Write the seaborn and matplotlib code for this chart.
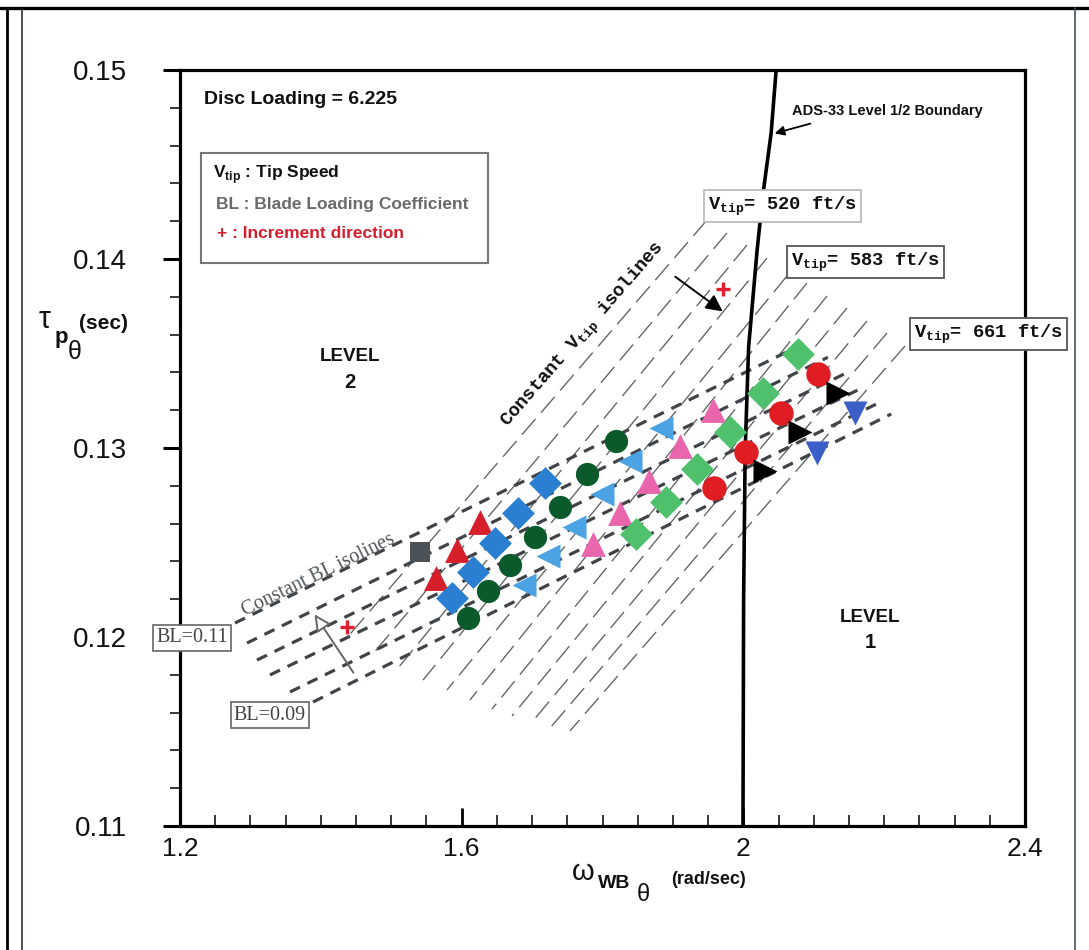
import matplotlib
matplotlib.use("Agg")
import matplotlib.pyplot as plt
import seaborn as sns
import pandas as pd
from matplotlib.lines import Line2D
from matplotlib.patches import Rectangle
from matplotlib.ticker import MultipleLocator

W, H = 1089, 950

sns.set_theme(style="white")
plt.rcParams['font.family'] = ['Liberation Sans', 'DejaVu Sans']
plt.rcParams['mathtext.fontset'] = 'custom'
plt.rcParams['mathtext.tt'] = 'Liberation Mono:bold'
plt.rcParams['mathtext.bf'] = 'Liberation Sans:bold'
plt.rcParams['mathtext.rm'] = 'Liberation Sans'
plt.rcParams['lines.scale_dashes'] = False

MONO = ['Liberation Mono', 'DejaVu Sans Mono']
SERIF = ['Liberation Serif', 'DejaVu Serif']

# ---- configurations (omega_WB, tau_p) grouped by marker family ----
square_x = [1.541]
square_y = [0.12450]
red_tri_x = [1.5635, 1.5934, 1.6260]
red_tri_y = [0.12312, 0.12460, 0.12608]
blue_dia_x = [1.5863, 1.6161, 1.6473, 1.6800, 1.7183]
blue_dia_y = [0.12206, 0.12344, 0.12497, 0.12656, 0.12815]
dkgreen_x = [1.6090, 1.6374, 1.6686, 1.7041, 1.7396, 1.7780, 1.8191]
dkgreen_y = [0.12101, 0.12243, 0.12381, 0.12529, 0.12688, 0.12862, 0.13037]
ltblue_x = [1.6885, 1.7226, 1.7595, 1.7993, 1.8390, 1.8830]
ltblue_y = [0.12275, 0.12429, 0.12582, 0.12757, 0.12931, 0.13106]
pink_x = [1.7865, 1.8248, 1.8660, 1.9100, 1.9569]
pink_y = [0.12492, 0.12656, 0.12825, 0.13011, 0.13201]
green_dia_x = [1.8475, 1.8901, 1.9342, 1.9810, 2.0279, 2.0776]
green_dia_y = [0.12545, 0.12714, 0.12889, 0.13085, 0.13291, 0.13497]
red_circ_x = [1.9583, 2.0038, 2.0535, 2.1060]
red_circ_y = [0.12788, 0.12979, 0.13185, 0.13392]
black_tri_x = [2.0307, 2.0804, 2.1344]
black_tri_y = [0.12878, 0.13085, 0.13291]
blue_down_x = [2.1046, 2.1585]
blue_down_y = [0.12974, 0.13185]

# ---- constant blade-loading isolines (start / end) ----
bl_x0 = [1.2781, 1.2951, 1.3093, 1.3278, 1.3562, 1.3889]
bl_y0 = [0.12074, 0.11968, 0.11878, 0.11799, 0.11709, 0.11656]
bl_x1 = [2.0900, 2.1200, 2.1480, 2.1700, 2.1930, 2.2100]
bl_y1 = [0.13560, 0.13480, 0.13400, 0.13320, 0.13240, 0.13180]

# ---- constant tip-speed isolines (upper / lower end) ----
vt_x0 = [1.9484, 1.9768, 2.0052, 2.0336, 2.0620, 2.0904, 2.1188, 2.1472, 2.1756, 2.2040, 2.2296]
vt_y0 = [0.14206, 0.14138, 0.14074, 0.14005, 0.13910, 0.13873, 0.13804, 0.13741, 0.13672, 0.13608, 0.13540]
vt_x1 = [1.4343, 1.4727, 1.5096, 1.5451, 1.5792, 1.6118, 1.6431, 1.6715, 1.6999, 1.7268, 1.7538]
vt_y1 = [0.11984, 0.11905, 0.11836, 0.11772, 0.11720, 0.11667, 0.11619, 0.11582, 0.11550, 0.11524, 0.11503]

# ---- ADS-33 level 1/2 boundary ----
ads_x = [2.0466, 2.0395, 2.0281, 2.0196, 2.0075, 2.0026, 2.0004, 1.9995]
ads_y = [0.15000, 0.14667, 0.14349, 0.14048, 0.13534, 0.12989, 0.12196, 0.11000]

groups = [
    ("square", square_x, square_y, "s", "#4b5257", 200),
    ("red_tri", red_tri_x, red_tri_y, "^", "#d71f2b", 320),
    ("blue_dia", blue_dia_x, blue_dia_y, "D", "#2b7fd3", 280),
    ("dkgreen", dkgreen_x, dkgreen_y, "o", "#0b5a2c", 280),
    ("ltblue", ltblue_x, ltblue_y, "<", "#4ba3e3", 300),
    ("pink", pink_x, pink_y, "^", "#e966ad", 320),
    ("green_dia", green_dia_x, green_dia_y, "D", "#4fc06c", 280),
    ("red_circ", red_circ_x, red_circ_y, "o", "#e11d24", 310),
    ("black_tri", black_tri_x, black_tri_y, ">", "#000000", 300),
    ("blue_down", blue_down_x, blue_down_y, "v", "#3c5ec8", 300),
]

fig = plt.figure(figsize=(W / 100, H / 100), dpi=100)
fig.patch.set_facecolor("white")
ax = fig.add_axes([180 / W, 1 - 826 / H, 845 / W, 756 / H])
ax.set_facecolor("white")

# isolines
for x0, y0, x1, y1 in zip(vt_x0, vt_y0, vt_x1, vt_y1):
    ax.plot([x0, x1], [y0, y1], color="#606060", lw=0.95, dashes=(15, 6), zorder=1)
for x0, y0, x1, y1 in zip(bl_x0, bl_y0, bl_x1, bl_y1):
    ax.plot([x0, x1], [y0, y1], color="#404448", lw=2.3, dashes=(8, 6), zorder=2)

# boundary
ax.plot(ads_x, ads_y, color="black", lw=2.6, zorder=4)

# markers
for name, xs, ys, mk, col, size in groups:
    df = pd.DataFrame({"omega": xs, "tau": ys})
    sns.scatterplot(data=df, x="omega", y="tau", marker=mk, color=col, s=size,
                    linewidth=0, ax=ax, zorder=5)

# increment markers
ax.scatter([1.9711, 1.4371], [0.13841, 0.12053], marker="+", s=110,
           color="#e0202e", linewidths=2.4, zorder=6)

ax.set_xlim(1.2, 2.4)
ax.set_ylim(0.11, 0.15)
ax.set_xlabel("")
ax.set_ylabel("")
ax.set_xticks([1.2, 1.6, 2.0, 2.4])
ax.set_xticklabels(["1.2", "1.6", "2", "2.4"])
ax.set_yticks([0.11, 0.12, 0.13, 0.14, 0.15])
ax.set_yticklabels(["0.11", "0.12", "0.13", "0.14", "0.15"])
ax.xaxis.set_minor_locator(MultipleLocator(0.05))
ax.yaxis.set_minor_locator(MultipleLocator(0.002))
ax.tick_params(axis="x", which="both", direction="in", bottom=True, top=False, colors="black")
ax.tick_params(axis="x", which="major", length=13, width=2.0, pad=8, labelsize=19, labelcolor="#111")
ax.tick_params(axis="x", which="minor", length=8, width=1.1)
ax.tick_params(axis="y", which="both", direction="out", left=True, right=False, colors="black")
ax.tick_params(axis="y", which="major", length=12, width=2.2, pad=26, labelsize=20, labelcolor="#111")
ax.tick_params(axis="y", which="minor", length=7, width=1.1)
for sp in ax.spines.values():
    sp.set_color("black")
    sp.set_linewidth(2.3)
    sp.set_visible(True)
ax.grid(False)


def ftext(px, py, s, **kw):
    return fig.text(px / W, 1 - py / H, s, **kw)


def fpt(px, py):
    return (px / W, 1 - py / H)


# page frame
frame = [((0, 8), (W, 8), "black", 2.4), ((7, 8), (7, H), "black", 2.0),
         ((22, 10), (22, H), "#44505a", 1.4), ((1075, 8), (1075, H), "#44505a", 1.2)]
for (a, b, c, lw) in frame:
    fig.add_artist(Line2D([a[0] / W, b[0] / W], [1 - a[1] / H, 1 - b[1] / H],
                          color=c, lw=lw, transform=fig.transFigure))

# axis titles
ftext(45, 320, "\u03c4", fontsize=22, ha="center", va="center", color="#111")
ftext(61, 338, "p", fontsize=16, fontweight="bold", ha="center", va="center", color="#111")
ftext(75, 352, "\u03b8", fontsize=18, ha="center", va="center", color="#111")
ftext(104, 323, "(sec)", fontsize=15, fontweight="bold", ha="center", va="center", color="#111")

ftext(583, 872, "\u03c9", fontsize=21, ha="center", va="center", color="#111")
ftext(614, 884, "WB", fontsize=14, fontweight="bold", ha="center", va="center", color="#111")
ftext(643, 895, "\u03b8", fontsize=17, ha="center", va="center", color="#111")
ftext(708, 879, "(rad/sec)", fontsize=13, fontweight="bold", ha="center", va="center", color="#111")

# annotations
ftext(204, 100, "Disc Loading = 6.225", fontsize=14, fontweight="bold",
      ha="left", va="center", color="#111")
fig.add_artist(Rectangle(fpt(201, 263), 287 / W, 110 / H, transform=fig.transFigure,
                         fc="white", ec="#777777", lw=1.5, zorder=3))
ftext(213, 175, r"V$_{\mathbf{tip}}$ : Tip Speed", fontsize=12.5, fontweight="bold",
      ha="left", va="center", color="#111", zorder=4)
ftext(216, 204, "BL : Blade Loading Coefficient", fontsize=12.5, fontweight="bold",
      ha="left", va="center", color="#6a6a6a", zorder=4)
ftext(217, 233, "+ : Increment direction", fontsize=12.5, fontweight="bold",
      ha="left", va="center", color="#d4202e", zorder=4)

for cx, cy1, cy2, num in [(350, 357, 383, "2"), (870, 617, 642, "1")]:
    ftext(cx, cy1, "LEVEL", fontsize=13.5, fontweight="bold", ha="center", va="center", color="#111")
    ftext(cx, cy2, num, fontsize=14.5, fontweight="bold", ha="center", va="center", color="#111")

ftext(792, 111, "ADS-33 Level 1/2 Boundary", fontsize=10.5, fontweight="bold",
      ha="left", va="center", color="#111")
ax.annotate("", xy=(2.0407, 0.14661), xytext=(2.0989, 0.14720),
            arrowprops=dict(arrowstyle="-|>", color="black", lw=1.3, mutation_scale=14), zorder=6)

for px, py, val, ec in [(708, 206, "520", "#bbbbbb"), (791, 262, "583", "#555555"), (914, 334, "661", "#555555")]:
    ftext(px, py, r"V$_{\mathtt{tip}}$= " + val + " ft/s", fontsize=13.5, fontweight="bold", family=MONO,
          ha="left", va="center", color="#111", zorder=10,
          bbox=dict(boxstyle="square,pad=0.22", fc="white", ec=ec, lw=1.3))

ftext(584, 335, r"Constant V$_{\mathtt{tip}}$ isolines", fontsize=13.5, fontweight="bold", family=MONO,
      rotation=49, ha="center", va="center", rotation_mode="anchor", color="#111")
ax.annotate("", xy=(1.9739, 0.13714), xytext=(1.9001, 0.13915),
            arrowprops=dict(arrowstyle="-|>", color="black", lw=1.4, mutation_scale=25), zorder=6)

ftext(318, 575, "Constant BL isolines", fontsize=14.5, family=SERIF, rotation=26,
      ha="center", va="center", rotation_mode="anchor", color="#50565a")
for px, py, s in [(192, 638, "BL=0.11"), (270, 715, "BL=0.09")]:
    ftext(px, py, s, fontsize=14.5, family=SERIF, ha="center", va="center", color="#444",
          bbox=dict(boxstyle="square,pad=0.15", fc="white", ec="#666", lw=1.2))
ax.annotate("", xy=(1.3889, 0.12132), xytext=(1.4485, 0.11799),
            arrowprops=dict(arrowstyle="-|>", fc="white", ec="#666666", lw=1.4, mutation_scale=25), zorder=6)

fig.savefig("out.png", dpi=100, facecolor="white")
